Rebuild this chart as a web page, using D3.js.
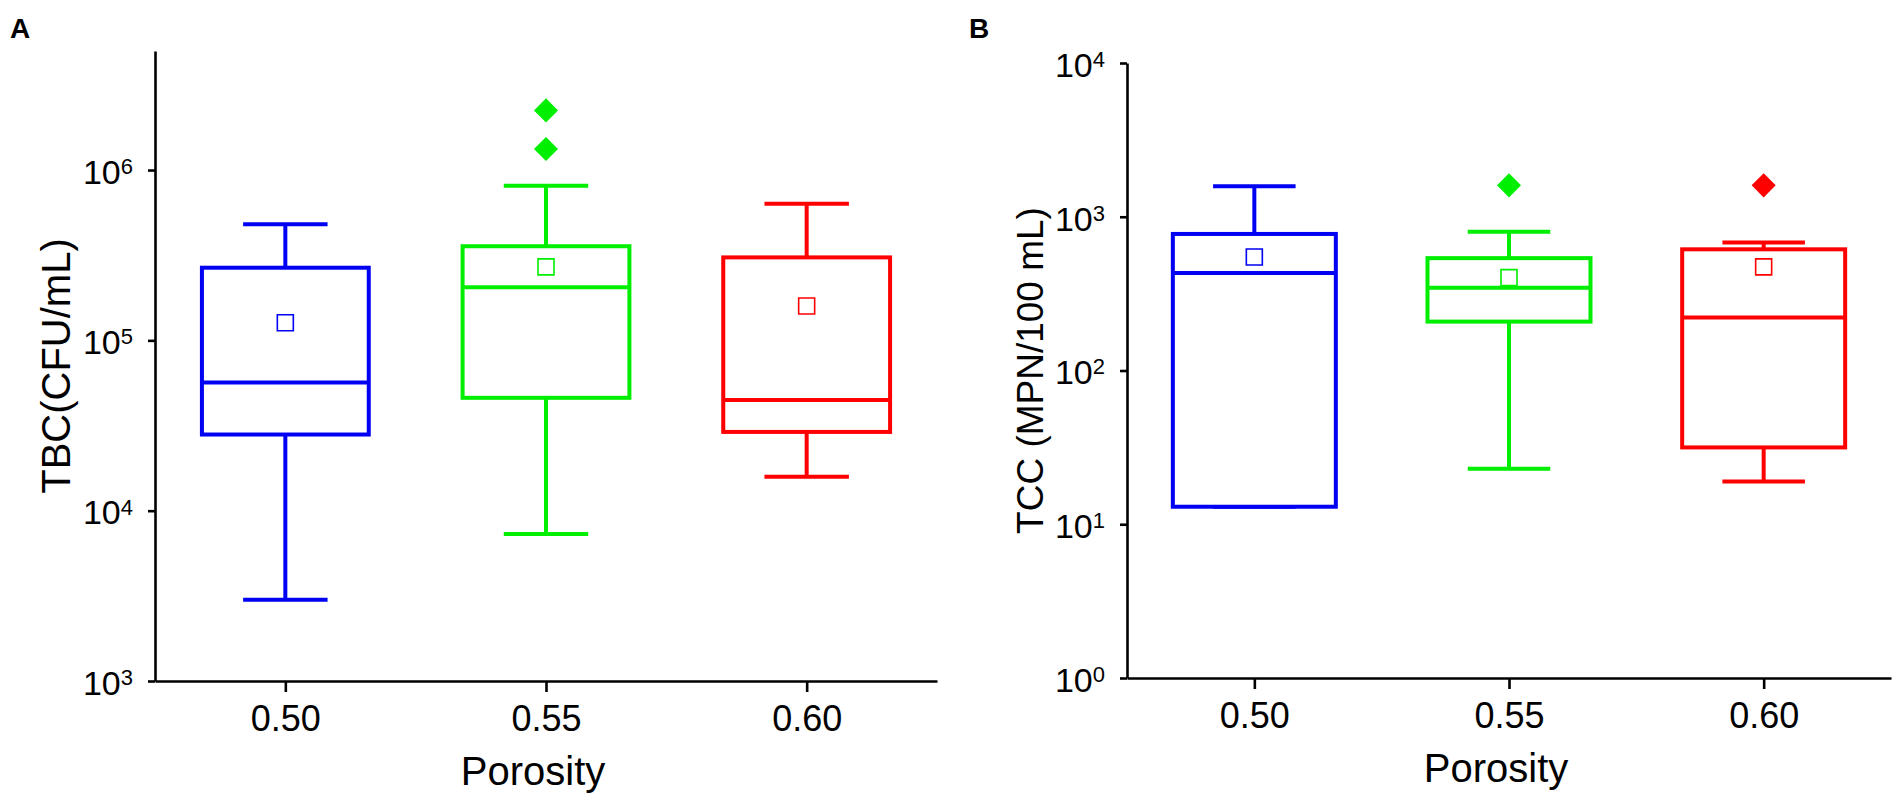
<!DOCTYPE html>
<html>
<head>
<meta charset="utf-8">
<script src="https://cdn.jsdelivr.net/npm/d3@7"></script>
<style>
    body { margin: 0; background: #fff; }
    text { font-family: "Liberation Sans", Arial, sans-serif; fill: #000; }
</style>
</head>
<body>
<div id="chart"></div>
<script>
// categories on the x axis
var porosity = [0.50, 0.55, 0.60];
var groupColors = ["#0000f2", "#00ee00", "#ff0000"];

// panel A: TBC (CFU/mL) box statistics per porosity
var tbcLow = [3.0e3, 7.3e3, 1.58e4];
var tbcQ1 = [2.8e4, 4.6e4, 2.9e4];
var tbcMedian = [5.65e4, 2.05e5, 4.47e4];
var tbcQ3 = [2.67e5, 3.57e5, 3.07e5];
var tbcHigh = [4.8e5, 8.1e5, 6.35e5];
var tbcMean = [1.27e5, 2.7e5, 1.59e5];
var tbcOutliers = [[], [1.33e6, 2.24e6], []];
var tbcTicks = [1e3, 1e4, 1e5, 1e6];

// panel B: TCC (MPN/100 mL) box statistics per porosity
var tccLow = [13, 23, 19];
var tccQ1 = [13, 208, 31.6];
var tccMedian = [431, 345, 221];
var tccQ3 = [773, 538, 614];
var tccHigh = [1580, 798, 679];
var tccMean = [547, 402, 472];
var tccOutliers = [[], [1600], [1600]];
var tccTicks = [1, 10, 100, 1000, 10000];

var svgWidth = 1904;
var svgHeight = 804;

var svg = d3.select("#chart")
    .append("svg")
    .attr("width", svgWidth)
    .attr("height", svgHeight);

// build the per-box rows from the arrays above
function makeRows(low, q1, med, q3, high, mean, outliers) {
    return porosity.map(function(p, i) {
        return {
            x: p, low: low[i], q1: q1[i], median: med[i], q3: q3[i],
            high: high[i], mean: mean[i], outliers: outliers[i], color: groupColors[i]
        };
    });
}

var panels = [
    {
        letter: "A", letterX: 10, letterY: 38,
        left: 155, right: 937, top: 51, bottom: 681,
        yDomain: [1e3, 5e6], ticks: tbcTicks,
        title: "TBC(CFU/mL)", titleX: 70, titleSize: 40,
        rows: makeRows(tbcLow, tbcQ1, tbcMedian, tbcQ3, tbcHigh, tbcMean, tbcOutliers)
    },
    {
        letter: "B", letterX: 969, letterY: 38,
        left: 1127, right: 1891, top: 63, bottom: 678,
        yDomain: [1, 1e4], ticks: tccTicks,
        title: "TCC (MPN/100 mL)", titleX: 1043, titleSize: 37,
        rows: makeRows(tccLow, tccQ1, tccMedian, tccQ3, tccHigh, tccMean, tccOutliers)
    }
];

var boxHalf = 0.016;   // half box width in porosity units
var capHalf = 0.0081;  // half whisker cap width

panels.forEach(function(p) {
    var g = svg.append("g");

    var xScale = d3.scaleLinear()
        .domain([0.475, 0.625])
        .range([p.left, p.right]);

    var yScale = d3.scaleLog()
        .domain(p.yDomain)
        .range([p.bottom, p.top]);

    // panel letter
    svg.append("text")
        .attr("x", p.letterX)
        .attr("y", p.letterY)
        .attr("font-size", "28px")
        .attr("font-weight", "bold")
        .text(p.letter);

    // x axis
    var xAxis = g.append("g")
        .attr("transform", `translate(0, ${p.bottom})`)
        .call(d3.axisBottom(xScale)
            .tickValues(porosity)
            .tickFormat(d3.format(".2f"))
            .tickSize(11)
            .tickSizeOuter(0)
            .tickPadding(13));
    xAxis.selectAll("text").attr("font-size", "36px").attr("font-family", null);

    // y axis with 10^n labels
    var yAxis = g.append("g")
        .attr("transform", `translate(${p.left}, 0)`)
        .call(d3.axisLeft(yScale)
            .tickValues(p.ticks)
            .tickFormat("")
            .tickSize(7)
            .tickSizeOuter(0)
            .tickPadding(15));

    yAxis.selectAll(".tick text")
        .attr("font-size", "34px")
        .attr("font-family", null)
        .attr("dy", "0.39em")
        .each(function(d) {
            var t = d3.select(this);
            t.append("tspan").text("10");
            t.append("tspan")
                .attr("dy", "-0.45em")
                .attr("font-size", "22px")
                .text(Math.round(Math.log10(d)));
        });

    [xAxis, yAxis].forEach(function(a) {
        a.selectAll("path, line")
            .attr("stroke", "#000")
            .attr("stroke-width", 2.6);
    });

    // axis titles
    g.append("text")
        .attr("x", (p.left + p.right) / 2 - 13)
        .attr("y", p.bottom + 104)
        .attr("text-anchor", "middle")
        .attr("font-size", "40px")
        .text("Porosity");

    g.append("text")
        .attr("transform", `translate(${p.titleX}, ${(p.top + p.bottom) / 2}) rotate(-90)`)
        .attr("text-anchor", "middle")
        .attr("font-size", p.titleSize + "px")
        .text(p.title);

    // boxes
    var boxes = g.selectAll(".box")
        .data(p.rows)
        .enter()
        .append("g")
        .attr("class", "box")
        .attr("stroke", d => d.color)
        .attr("fill", "none");

    // whiskers
    boxes.append("line")
        .attr("x1", d => xScale(d.x)).attr("x2", d => xScale(d.x))
        .attr("y1", d => yScale(d.q3)).attr("y2", d => yScale(d.high))
        .attr("stroke-width", 4);
    boxes.append("line")
        .attr("x1", d => xScale(d.x)).attr("x2", d => xScale(d.x))
        .attr("y1", d => yScale(d.q1)).attr("y2", d => yScale(d.low))
        .attr("stroke-width", 4);

    // whisker caps
    boxes.append("line")
        .attr("x1", d => xScale(d.x - capHalf)).attr("x2", d => xScale(d.x + capHalf))
        .attr("y1", d => yScale(d.high)).attr("y2", d => yScale(d.high))
        .attr("stroke-width", 4);
    boxes.append("line")
        .attr("x1", d => xScale(d.x - capHalf)).attr("x2", d => xScale(d.x + capHalf))
        .attr("y1", d => yScale(d.low)).attr("y2", d => yScale(d.low))
        .attr("stroke-width", 4);

    // box body
    boxes.append("rect")
        .attr("x", d => xScale(d.x - boxHalf))
        .attr("width", d => xScale(d.x + boxHalf) - xScale(d.x - boxHalf))
        .attr("y", d => yScale(d.q3))
        .attr("height", d => yScale(d.q1) - yScale(d.q3))
        .attr("fill", "#fff")
        .attr("stroke-width", 4);

    // median
    boxes.append("line")
        .attr("x1", d => xScale(d.x - boxHalf)).attr("x2", d => xScale(d.x + boxHalf))
        .attr("y1", d => yScale(d.median)).attr("y2", d => yScale(d.median))
        .attr("stroke-width", 4);

    // mean marker (open square)
    boxes.append("path")
        .attr("d", d3.symbol(d3.symbolSquare, 16 * 16))
        .attr("transform", d => `translate(${xScale(d.x)}, ${yScale(d.mean)})`)
        .attr("fill", "none")
        .attr("stroke-width", 1.6);

    // outliers (filled diamonds)
    boxes.selectAll(".outlier")
        .data(d => d.outliers.map(v => ({ x: d.x, v: v, color: d.color })))
        .enter()
        .append("path")
        .attr("class", "outlier")
        .attr("d", d3.symbol(d3.symbolSquare, 17 * 17))
        .attr("transform", d => `translate(${xScale(d.x)}, ${yScale(d.v)}) rotate(45)`)
        .attr("fill", d => d.color)
        .attr("stroke", "none");
});
</script>
</body>
</html>
